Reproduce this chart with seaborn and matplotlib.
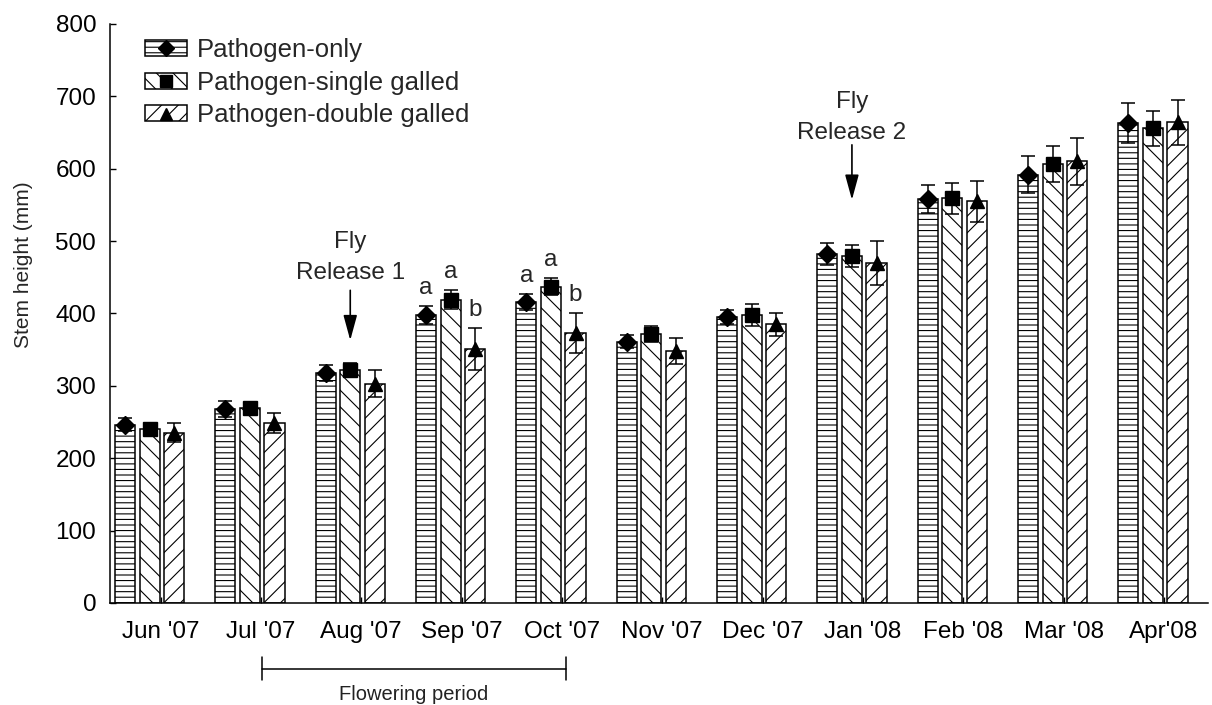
import numpy as np
import pandas as pd
import matplotlib
matplotlib.use('Agg')
import matplotlib.pyplot as plt
import matplotlib.transforms as mtransforms
from matplotlib.patches import Patch, Rectangle
from matplotlib.lines import Line2D
from matplotlib.legend_handler import HandlerTuple
import seaborn as sns

# ---------------- data ----------------
months = ["Jun '07", "Jul '07", "Aug '07", "Sep '07", "Oct '07", "Nov '07",
          "Dec '07", "Jan '08", "Feb '08", "Mar '08", "Apr'08"]
treatments = ["Pathogen-only", "Pathogen-single galled", "Pathogen-double galled"]

pathogen_only = [246, 268, 318, 398, 416, 361, 395, 482, 558, 592, 663]
pathogen_single = [241, 270, 322, 419, 437, 372, 398, 479, 559, 607, 656]
pathogen_double = [235, 249, 303, 351, 373, 348, 385, 470, 555, 610, 664]

se_only = [9, 11, 11, 12, 11, 9, 10, 15, 19, 26, 28]
se_single = [5, 5, 10, 13, 12, 11, 15, 15, 21, 25, 24]
se_double = [13, 14, 19, 29, 28, 18, 16, 30, 28, 32, 31]

sig_months = ["Sep '07", "Oct '07"]
sig_letters = [["a", "a", "b"], ["a", "a", "b"]]

yticks = list(range(0, 801, 100))

means = [pathogen_only, pathogen_single, pathogen_double]
errs = [se_only, se_single, se_double]

# ---------------- style ----------------
sns.set_style('ticks')
plt.rcParams['font.family'] = ['Liberation Sans', 'DejaVu Sans']
plt.rcParams['hatch.linewidth'] = 0.8

fig = plt.figure(figsize=(12.12, 7.05), dpi=100)
ax = fig.add_axes([0.0908, 0.1447, 0.906, 0.8213])

df = pd.DataFrame({
    'month': pd.Categorical(np.tile(months, 3), categories=months),
    'height': np.concatenate(means).astype(float),
    'treatment': pd.Categorical(np.repeat(treatments, len(months)), categories=treatments),
})

sns.barplot(data=df, x='month', y='height', hue='treatment', order=months,
            hue_order=treatments, palette=['white'] * 3, saturation=1,
            width=0.735, gap=0.184, edgecolor='black', linewidth=1.1,
            errorbar=None, legend=False, ax=ax)

hatches = ['---', '\\\\', '//']
markers = ['D', 's', '^']
msizes = [9, 9.5, 10]

# bars drawn by seaborn, sorted by position -> (month, treatment)
bars = sorted([p for p in ax.patches if isinstance(p, Rectangle) and p.get_height() > 0],
              key=lambda p: p.get_x())
bar_x = [[None] * len(months) for _ in treatments]
for j, b in enumerate(bars):
    mi, k = divmod(j, 3)
    b.set_hatch(hatches[k])
    bar_x[k][mi] = b.get_x() + b.get_width() / 2

for k in range(3):
    xs = bar_x[k]
    ax.errorbar(xs, means[k], yerr=errs[k], fmt='none', ecolor='black',
                elinewidth=1.1, capsize=5, capthick=1.1, zorder=3)
    ax.plot(xs, means[k], linestyle='none', marker=markers[k], color='black',
            markersize=msizes[k], zorder=4)

# significance letters
for mi, mname in enumerate(sig_months):
    idx = months.index(mname)
    for k in range(3):
        ax.annotate(sig_letters[mi][k], (bar_x[k][idx], means[k][idx] + errs[k][idx]),
                    xytext=(0, 13), textcoords='offset points', ha='center',
                    va='center', fontsize=17.5)

# axes
ax.set_ylim(0, 800)
ax.set_yticks(yticks)
ax.set_xlim(-0.394, 10.55)
ax.set_xticks(np.arange(len(months)) + 0.11, months)
ax.set_xlabel('')
ax.set_ylabel('Stem height (mm)', fontsize=15)
ax.yaxis.set_label_coords(-0.070, 0.584)
sns.despine(ax=ax)
for s in ['left', 'bottom']:
    ax.spines[s].set_linewidth(1.1)
    ax.spines[s].set_color('black')
ax.tick_params(axis='both', direction='in', length=4, width=1, labelsize=17.5,
               colors='black')
ax.tick_params(axis='y', pad=10)
ax.tick_params(axis='x', pad=13)

# fly release annotations
arrow = dict(arrowstyle='-|>,head_length=1.1,head_width=0.3', color='black', lw=1.2,
             mutation_scale=14, shrinkA=0, shrinkB=0)
ax.annotate('', xy=(2, 363), xytext=(2, 432), arrowprops=arrow)
ax.text(2, 499, 'Fly', ha='center', va='center', fontsize=17.5)
ax.text(2, 456, 'Release 1', ha='center', va='center', fontsize=17.5)
ax.annotate('', xy=(7, 557), xytext=(7, 633), arrowprops=arrow)
ax.text(7, 692, 'Fly', ha='center', va='center', fontsize=17.5)
ax.text(7, 649, 'Release 2', ha='center', va='center', fontsize=17.5)

# flowering period bracket
trans = mtransforms.blended_transform_factory(ax.transData, ax.transAxes)
ax.plot([1.12, 4.15], [-0.114, -0.114], transform=trans, clip_on=False, color='black', lw=1.1)
for xv in (1.12, 4.15):
    ax.plot([xv, xv], [-0.093, -0.133], transform=trans, clip_on=False, color='black', lw=1.1)
ax.text(2.63, -0.158, 'Flowering period', transform=trans, ha='center', va='center',
        fontsize=14.5, color='#222222')

# legend
handles = [(Patch(facecolor='white', edgecolor='black', hatch=h, linewidth=1.1),
            Line2D([], [], marker=m, color='black', linestyle='none', markersize=s * 0.9))
           for h, m, s in zip(hatches, markers, msizes)]
ax.legend(handles, treatments, handler_map={tuple: HandlerTuple(ndivide=1)},
          loc='upper left', bbox_to_anchor=(145 / 1212, 1 - 38 / 705),
          bbox_transform=fig.transFigure, frameon=False, fontsize=18.5,
          handlelength=1.63, handleheight=0.58, handletextpad=0.4,
          labelspacing=0.34, borderpad=0, borderaxespad=0)

fig.savefig('out.png', dpi=100)
